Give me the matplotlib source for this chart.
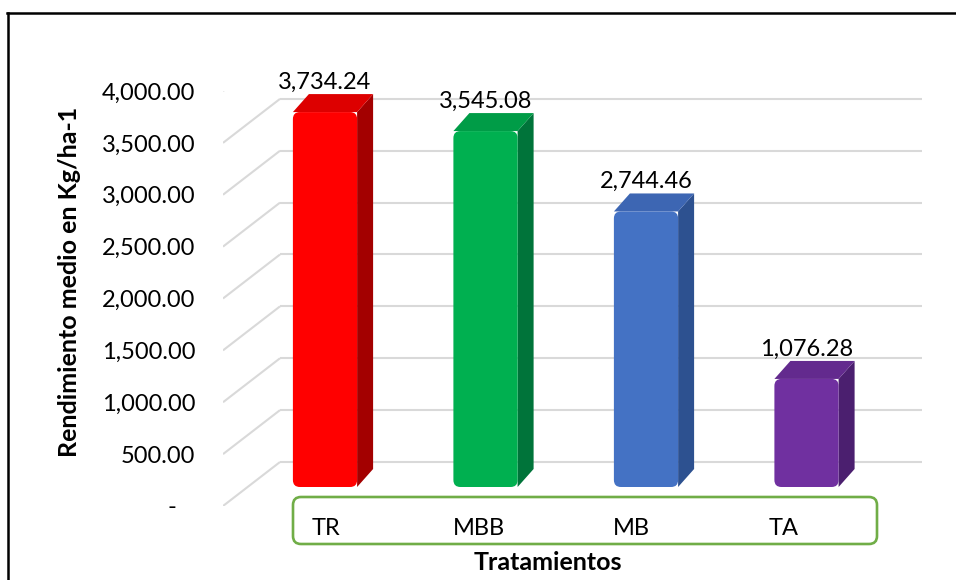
import matplotlib.pyplot as plt
from matplotlib.patches import FancyBboxPatch, Polygon
from matplotlib.lines import Line2D
from matplotlib.transforms import blended_transform_factory

categorias = ["TR", "MBB", "MB", "TA"]
rendimiento = [3734.24, 3545.08, 2744.46, 1076.28]
marcas_y = [0, 500, 1000, 1500, 2000, 2500, 3000, 3500, 4000]

color_frente = ["#FF0000", "#00B050", "#4472C4", "#7030A0"]
color_lado = ["#A30000", "#00743A", "#2D5190", "#4B1F6F"]
color_tapa = ["#DD0000", "#009C47", "#3D66B3", "#632A8E"]
gris = "#D9D9D9"

W, H = 956, 580
plt.rcParams['font.family'] = ['Lato', 'DejaVu Sans']
fig = plt.figure(figsize=(W / 100, H / 100), dpi=100)


def caja(x0, y0, x1, y1):
    # pixel box measured from the top-left corner -> figure fraction rect
    return [x0 / W, 1 - y1 / H, (x1 - x0) / W, (y1 - y0) / H]


# overlay in pixel units for the frame and the category box
fondo = fig.add_axes([0, 0, 1, 1])
fondo.set_xlim(0, W)
fondo.set_ylim(H, 0)
fondo.axis('off')
fondo.add_line(Line2D([7, W], [13, 13], color='black', lw=1.8))
fondo.add_line(Line2D([8, 8], [13, H], color='black', lw=1.8))
fondo.add_patch(FancyBboxPatch((293, 497), 584, 47,
                               boxstyle="round,pad=0,rounding_size=8",
                               fill=False, ec="#70AD47", lw=1.9))

# walls, gridlines and value axis
ax = fig.add_axes(caja(223, 91, 922, 506))
ax.set_ylim(0, 4000)
ax.set_xlim(0, 1)
ax.patch.set_alpha(0)
for s in ax.spines.values():
    s.set_visible(False)
ax.set_xticks([])
ax.set_yticks(marcas_y)
ax.set_yticklabels(["-   " if v == 0 else f"{v:,.2f}" for v in marcas_y])
ax.tick_params(axis='y', length=0, pad=20, labelsize=17)

px_y = 415 / 4000
fondo_dv = 44 / px_y
fondo_dx = 57 / 699
tr = blended_transform_factory(ax.transAxes, ax.transData)
for v in marcas_y:
    ax.plot([0, fondo_dx], [v, v + fondo_dv], color=gris, lw=1.5,
            transform=tr, solid_capstyle='butt')
    ax.plot([fondo_dx, 1], [v + fondo_dv, v + fondo_dv], color=gris, lw=1.5,
            transform=tr, solid_capstyle='butt')

# bars
bx = fig.add_axes(caja(244.75, 85.4, 886.75, 487))
bx.set_xlim(-0.5, 3.5)
bx.set_ylim(0, 4000)
bx.axis('off')
bx.patch.set_alpha(0)

ux = 642 / 4.0
uy = 401.6 / 4000
prof_x = 16 / ux
prof_y = 18 / uy

barras = bx.bar(range(len(categorias)), rendimiento, width=0.4,
                color=color_frente)
for i, b in enumerate(barras):
    b.set_visible(False)
    x0, w, v = b.get_x(), b.get_width(), b.get_height()
    x1 = x0 + w
    bx.add_patch(Polygon([(x1, 0), (x1 + prof_x, prof_y),
                          (x1 + prof_x, v + prof_y), (x1, v)],
                         closed=True, fc=color_lado[i], ec='none'))
    bx.add_patch(Polygon([(x0, v), (x0 + prof_x, v + prof_y),
                          (x1 + prof_x, v + prof_y), (x1, v)],
                         closed=True, fc=color_tapa[i], ec='none'))
    bx.add_patch(FancyBboxPatch((x0, 0), w, v,
                                boxstyle=f"round,pad=0,rounding_size={7 / ux}",
                                mutation_aspect=ux / uy,
                                fc=color_frente[i], ec='none'))
    bx.annotate(f"{v:,.2f}", (i, v + prof_y), xytext=(0, 1),
                textcoords='offset points', ha='center', va='bottom',
                fontsize=17)

# category labels on the front edge of the floor
lx = fig.add_axes(caja(250.2, 497, 859.8, 544))
lx.set_xlim(-0.5, 3.5)
lx.set_ylim(0, 1)
lx.axis('off')
for i, c in enumerate(categorias):
    lx.text(i, 0.33, c, ha='center', va='center', fontsize=17)

fig.text(548 / W, 1 - 562 / H, "Tratamientos", ha='center', va='center',
         fontsize=18, fontweight='bold')
fig.text(70 / W, 1 - 282 / H, "Rendimiento medio en Kg/ha-1", ha='center',
         va='center', rotation=90, fontsize=18, fontweight='bold')

fig.savefig("out.png", dpi=100, facecolor='white')
